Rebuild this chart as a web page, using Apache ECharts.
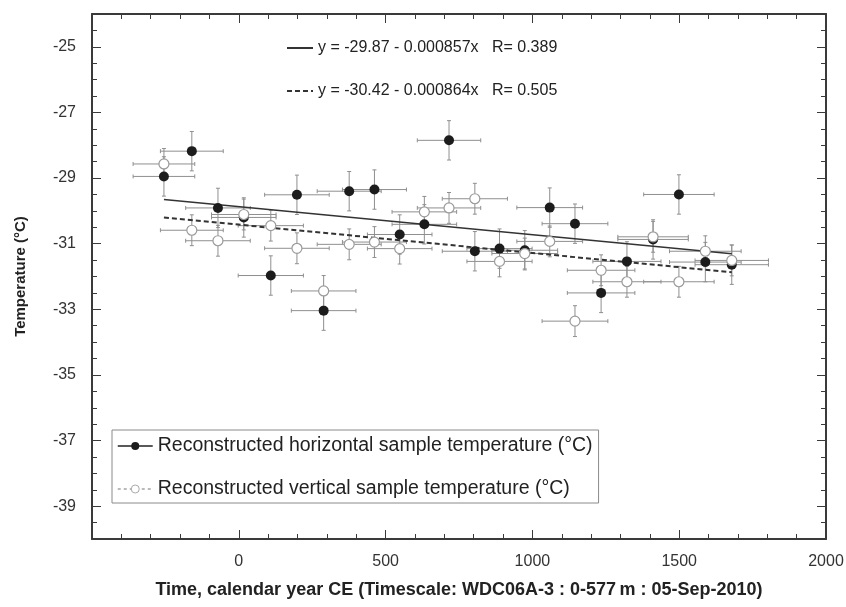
<!DOCTYPE html>
<html>
<head>
<meta charset="utf-8">
<title>Reconstructed sample temperature</title>
<script src="https://cdn.jsdelivr.net/npm/echarts@6.0.0/dist/echarts.min.js"></script>
<style>
  html, body { margin: 0; padding: 0; background: #fff; }
  #chart { width: 846px; height: 607px; }
</style>
</head>
<body>
<div id="chart"></div>
<script>
// ---- data ----
// sample ages (calendar year CE), shared by both series
const years = [-255, -160, -71, 17, 109, 198, 289, 376, 462, 548, 632, 716,
               804, 888, 974, 1059, 1145, 1234, 1322, 1411, 1499, 1589, 1679];
// half width of the horizontal (age) error bars, years
const yearErr = [105, 107, 110, 110, 111, 110, 110, 109, 109, 110, 110, 108,
                 111, 111, 112, 112, 112, 115, 116, 120, 120, 122, 125];
// horizontal samples (filled dots)
const horizTemp = [-28.95, -28.18, -29.91, -30.20, -31.97, -29.51, -33.04, -29.40,
                   -29.35, -30.72, -30.41, -27.85, -31.23, -31.15, -31.20, -29.90,
                   -30.39, -32.50, -31.54, -30.87, -29.50, -31.56, -31.64];
const horizErr = [0.6, 0.6, 0.6, 0.6, 0.6, 0.6, 0.6, 0.6, 0.6, 0.6, 0.6, 0.6,
                  0.6, 0.6, 0.6, 0.6, 0.6, 0.6, 0.6, 0.6, 0.6, 0.6, 0.6];
// vertical samples (open dots)
const vertTemp = [-28.57, -30.59, -30.91, -30.11, -30.45, -31.14, -32.44, -31.02,
                  -30.95, -31.15, -30.03, -29.91, -29.63, -31.54, -31.30, -30.93,
                  -33.36, -31.81, -32.16, -30.79, -32.16, -31.23, -31.51];
const vertErr = [0.47, 0.47, 0.47, 0.47, 0.47, 0.47, 0.47, 0.47, 0.47, 0.47, 0.47, 0.47,
                 0.47, 0.47, 0.47, 0.47, 0.47, 0.47, 0.47, 0.47, 0.47, 0.47, 0.47];
// linear fits printed on the figure: [intercept, slope]
const fitHoriz = [-29.87, -0.000857];
const fitVert = [-30.42, -0.000864];
const fitHorizLabel = 'y = -29.87 - 0.000857x   R= 0.389';
const fitVertLabel = 'y = -30.42 - 0.000864x   R= 0.505';
// axis ticks
const xTicks = [0, 500, 1000, 1500, 2000];
const yTicks = [-39, -37, -35, -33, -31, -29, -27, -25];

const H_NAME = 'Reconstructed horizontal sample temperature (°C)';
const V_NAME = 'Reconstructed vertical sample temperature (°C)';

document.addEventListener('DOMContentLoaded', function () {
  const chart = echarts.init(document.getElementById('chart'));
  const FONT = '"Liberation Sans", Arial, Helvetica, sans-serif';
  const AXIS_COLOR = '#3a3a3a';
  const BAR_COLOR = '#8f8f8f';

  // half-unit minor ticks on the temperature axis
  const yMinor = [];
  for (let v = -40; v <= -24; v += 0.5) {
    if (yTicks.indexOf(v) < 0) yMinor.push(v);
  }

  const zip = (ys, ye) => years.map((x, i) => [x, ys[i], yearErr[i], ye[i]]);
  const fitLine = f => [years[0], years[years.length - 1]].map(x => [x, f[0] + f[1] * x]);

  // cross shaped error bars with little caps
  function renderBars(params, api) {
    const x = api.value(0), y = api.value(1), dx = api.value(2), dy = api.value(3);
    const l = api.coord([x - dx, y]), r = api.coord([x + dx, y]);
    const t = api.coord([x, y + dy]), b = api.coord([x, y - dy]);
    const c = 2;
    const style = { stroke: BAR_COLOR, lineWidth: 1 };
    const seg = (x1, y1, x2, y2) => ({ type: 'line', shape: { x1, y1, x2, y2 }, style });
    return {
      type: 'group',
      children: [
        seg(l[0], l[1], r[0], r[1]),
        seg(t[0], t[1], b[0], b[1]),
        seg(l[0], l[1] - c, l[0], l[1] + c),
        seg(r[0], r[1] - c, r[0], r[1] + c),
        seg(t[0] - c, t[1], t[0] + c, t[1]),
        seg(b[0] - c, b[1], b[0] + c, b[1])
      ]
    };
  }

  function frameX(pos, showLabel) {
    return {
      type: 'value', position: pos, min: -500, max: 2000, interval: 500,
      axisLine: { show: true, onZero: false, lineStyle: { color: AXIS_COLOR, width: 2 } },
      axisTick: { show: true, inside: true, length: 9, lineStyle: { color: AXIS_COLOR } },
      minorTick: { show: true, splitNumber: 5, length: 5, lineStyle: { color: AXIS_COLOR } },
      axisLabel: showLabel ? {
        customValues: xTicks, margin: 15, fontSize: 16, color: '#333', fontFamily: FONT,
        formatter: v => String(v)
      } : { show: false },
      splitLine: { show: false }
    };
  }

  function frameY(pos, ticks, len, showLabel, line) {
    return {
      type: 'value', position: pos, min: -40, max: -24,
      axisLine: { show: line, onZero: false, lineStyle: { color: AXIS_COLOR, width: 2 } },
      axisTick: { show: true, inside: true, length: len, customValues: ticks, lineStyle: { color: AXIS_COLOR } },
      axisLabel: showLabel ? {
        customValues: yTicks, margin: 16, fontSize: 16, color: '#333', fontFamily: FONT,
        formatter: v => String(v)
      } : { show: false },
      splitLine: { show: false }
    };
  }

  const xMain = frameX('bottom', true);
  xMain.name = 'Time, calendar year CE (Timescale: WDC06A-3 : 0-577\u2009m : 05-Sep-2010)';
  xMain.nameLocation = 'middle';
  xMain.nameGap = 42;
  xMain.nameTextStyle = { fontSize: 18, fontWeight: 'bold', color: '#222', fontFamily: FONT };

  const yMain = frameY('left', yTicks, 9, true, true);
  yMain.name = 'Temperature (°C)';
  yMain.nameLocation = 'middle';
  yMain.nameGap = 64;
  yMain.nameTextStyle = { fontSize: 15, fontWeight: 'bold', color: '#222', fontFamily: FONT };

  const noSymbol = { opacity: 0 };

  const option = {
    backgroundColor: '#fff',
    animation: false,
    grid: { left: 92, right: 20, top: 14, bottom: 68, outerBoundsMode: 'none' },
    xAxis: [xMain, frameX('top', false)],
    yAxis: [
      yMain,
      frameY('left', yMinor, 5, false, false),
      frameY('right', yTicks, 9, false, true),
      frameY('right', yMinor, 5, false, false)
    ],
    legend: [
      {
        orient: 'vertical', left: 112, top: 430,
        padding: [6, 6, 4, 5], itemGap: 23, itemWidth: 35, itemHeight: 10,
        borderColor: '#8a8a8a', borderWidth: 1, backgroundColor: '#fff',
        selectedMode: false,
        textStyle: { fontSize: 19.5, color: '#222', fontFamily: FONT },
        data: [
          { name: H_NAME, lineStyle: { color: '#222', width: 1.5, type: 'solid', opacity: 1 } },
          { name: V_NAME, lineStyle: { color: '#777', width: 1.2, type: [3, 3], opacity: 1 },
            itemStyle: { color: '#fff', borderColor: '#aaa', borderWidth: 1 } }
        ]
      },
      {
        orient: 'vertical', left: 286, top: 40,
        padding: 0, itemGap: 27, itemWidth: 26, itemHeight: 10,
        selectedMode: false,
        textStyle: { fontSize: 16, color: '#222', fontFamily: FONT },
        data: [
          { name: fitHorizLabel, itemStyle: noSymbol },
          { name: fitVertLabel, itemStyle: noSymbol }
        ]
      }
    ],
    series: [
      {
        name: 'hErr', type: 'custom', renderItem: renderBars, z: 1,
        encode: { x: 0, y: 1 }, data: zip(horizTemp, horizErr)
      },
      {
        name: 'vErr', type: 'custom', renderItem: renderBars, z: 1,
        encode: { x: 0, y: 1 }, data: zip(vertTemp, vertErr)
      },
      {
        name: fitHorizLabel, type: 'line', symbol: 'none', z: 2, silent: true,
        itemStyle: { color: '#333' },
        lineStyle: { color: '#333', width: 1.6 }, data: fitLine(fitHoriz)
      },
      {
        name: fitVertLabel, type: 'line', symbol: 'none', z: 2, silent: true,
        itemStyle: { color: '#333' },
        lineStyle: { color: '#333', width: 2, type: [5, 3] }, data: fitLine(fitVert)
      },
      {
        name: H_NAME, type: 'line', z: 3, symbol: 'circle', symbolSize: 10,
        lineStyle: { opacity: 0 },
        itemStyle: { color: '#1c1c1c', borderColor: '#1c1c1c', borderWidth: 0 },
        data: years.map((x, i) => [x, horizTemp[i]])
      },
      {
        name: V_NAME, type: 'line', z: 4, symbol: 'circle', symbolSize: 10,
        lineStyle: { opacity: 0 },
        itemStyle: { color: '#fff', borderColor: '#9a9a9a', borderWidth: 1.2 },
        data: years.map((x, i) => [x, vertTemp[i]])
      }
    ]
  };

  chart.setOption(option);
  window.addEventListener('resize', () => chart.resize());
});
</script>
</body>
</html>
